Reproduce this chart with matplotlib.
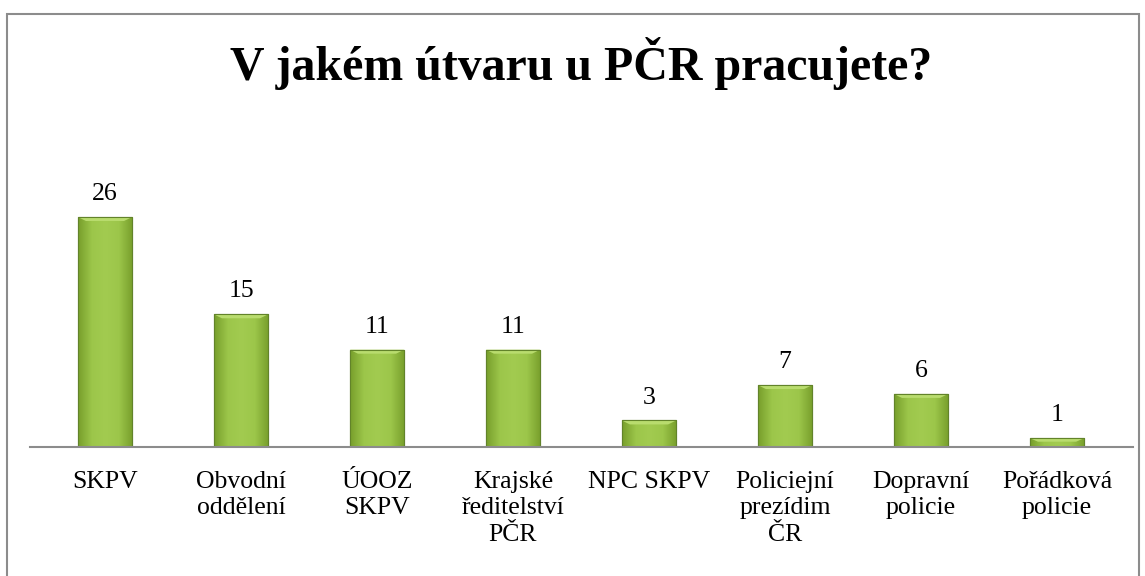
import matplotlib.pyplot as plt
import numpy as np
from matplotlib.colors import LinearSegmentedColormap
from matplotlib.patches import Rectangle

categories = [
    "SKPV",
    "Obvodní\noddělení",
    "ÚOOZ\nSKPV",
    "Krajské\nředitelství\nPČR",
    "NPC SKPV",
    "Policiejní\nprezídim\nČR",
    "Dopravní\npolicie",
    "Pořádková\npolicie",
]
values = [26, 15, 11, 11, 3, 7, 6, 1]
title = "V jakém útvaru u PČR pracujete?"

plt.rcParams["font.family"] = ["Liberation Serif", "DejaVu Serif"]

W, H = 1145, 576
fig = plt.figure(figsize=(W / 100, H / 100), dpi=100)

# outer chart border (bottom edge falls just outside the picture)
fig.patches.append(Rectangle((7 / W, -2 / H), 1132 / W, (576 - 14 + 2) / H,
                             transform=fig.transFigure, fill=False,
                             edgecolor="#8c8c8c", linewidth=1.5))

# plot area in pixels: x 37..1125, baseline at y=447
left, right = 37, 1125
bottom_px, top_px = 447, 150
ax = fig.add_axes([left / W, 1 - bottom_px / H, (right - left) / W, (bottom_px - top_px) / H])
px_per_unit = (447 - 217) / 26
ax.set_ylim(0, (bottom_px - top_px) / px_per_unit)
ax.set_xlim(-0.5, len(categories) - 0.5)

x = np.arange(len(categories))
width = 0.40
bars = ax.bar(x, values, width=width, color="#8fb840", edgecolor="#5f7f25",
              linewidth=0.8, zorder=2)

# horizontal shading across each bar + light bevel on top
shade = LinearSegmentedColormap.from_list(
    "shade", ["#789f2c", "#9cc64a", "#a2cb50", "#9cc64a", "#789f2c"])
grad = np.linspace(0, 1, 64).reshape(1, -1)
bevel = 0.45
for b in bars:
    x0, w, h = b.get_x(), b.get_width(), b.get_height()
    im = ax.imshow(grad, extent=(x0, x0 + w, 0, h), aspect="auto", cmap=shade,
                   zorder=3)
    im.set_clip_path(b)
    bh = min(bevel, h * 0.4)
    ax.fill([x0, x0 + w, x0 + w - 0.06, x0 + 0.06],
            [h, h, h - bh, h - bh], color="#b9dc6e", zorder=4, lw=0)
    ax.add_patch(Rectangle((x0, 0), w, h, fill=False, edgecolor="#62832a",
                           linewidth=0.8, zorder=5))

for xi, v in zip(x, values):
    ax.annotate(str(v), (xi, v), xytext=(0, 16.5), textcoords="offset points",
                ha="center", va="center", fontsize=18.5)

ax.set_xticks(x)
ax.set_xticklabels(categories, fontsize=18.5, linespacing=1.28)
ax.tick_params(axis="x", length=0, pad=17)
ax.set_yticks([])
for s in ["top", "right", "left"]:
    ax.spines[s].set_visible(False)
ax.spines["bottom"].set_color("#8c8c8c")
ax.spines["bottom"].set_linewidth(1.5)
ax.spines["bottom"].set_bounds(-0.55, 7.56)
ax.spines["bottom"].set_zorder(6)

fig.text(581 / W, 1 - 64 / H, title, ha="center", va="center", fontsize=34.5,
         fontweight="bold")

fig.savefig("out.png", dpi=100)
